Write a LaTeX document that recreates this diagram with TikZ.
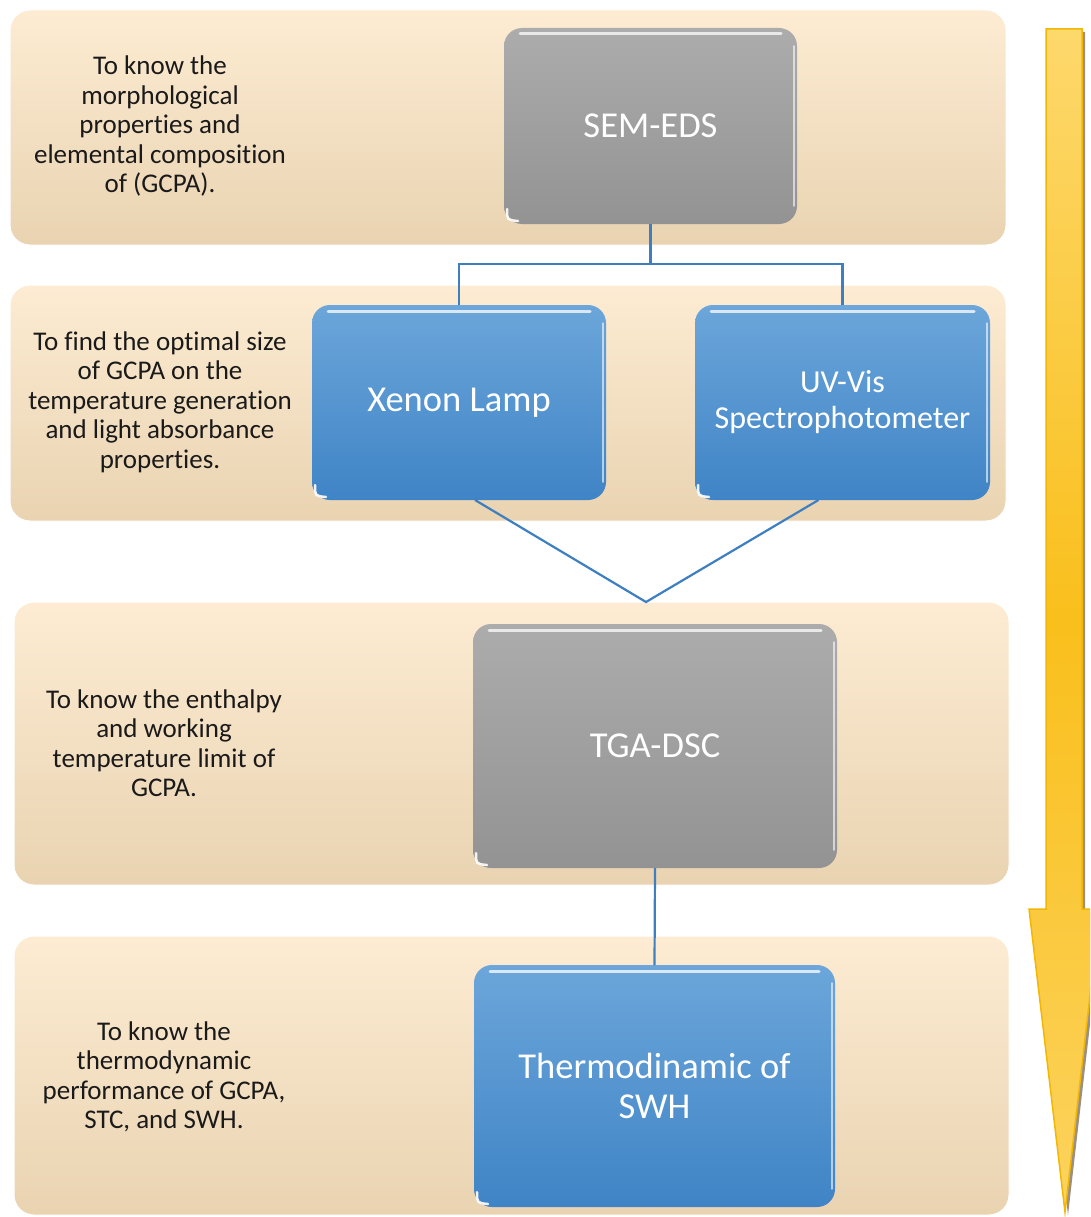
\documentclass[tikz,border=0pt]{standalone}
\usepackage{fontspec}
\setmainfont{Carlito}[Ligatures=NoCommon]
\usetikzlibrary{calc}
\definecolor{bandtop}{HTML}{FDECD3}
\definecolor{bandbot}{HTML}{E9D3B1}
\definecolor{graytop}{HTML}{ACACAC}
\definecolor{graybot}{HTML}{939393}
\definecolor{bluetop}{HTML}{6CA6DA}
\definecolor{bluebot}{HTML}{3F84C6}
\definecolor{connblue}{HTML}{3E7FC1}
\definecolor{arrtop}{HTML}{FDD86C}
\definecolor{arrmid}{HTML}{F9BF1C}
\definecolor{arrbot}{HTML}{FCD35E}
\definecolor{arredge}{HTML}{F2B705}
\definecolor{txt}{HTML}{1A1A1A}
\tikzset{
  band/.style={rounded corners=20pt, top color=bandtop, bottom color=bandbot, draw=white, line width=1pt},
  boxbase/.style={rounded corners=18pt, inner sep=0pt, outer sep=0pt, text=white, align=center,
     font=\fontsize{36.5}{40}\selectfont},
  graybox/.style={boxbase, top color=graytop, bottom color=graybot},
  bluebox/.style={boxbase, top color=bluetop, bottom color=bluebot},
  lefttext/.style={align=center, text=txt, font=\fontsize{27}{29.5}\selectfont, inner sep=0pt},
  conn/.style={draw=connblue, line width=2.2pt},
}
\begin{document}
\begin{tikzpicture}[x=1pt,y=-1pt]
\useasboundingbox (0,0) rectangle (1090,1217);
\fill[white] (0,0) rectangle (1090,1217);

% bands
\path[band] (10,10) rectangle (1006,245);
\path[band] (10,285) rectangle (1006,521);
\path[band] (14,602) rectangle (1009,885);
\path[band] (14,936) rectangle (1009,1215);

% left texts
\node[lefttext] (t1) at (160,126) {To know the\\morphological\\properties and\\elemental composition\\of (GCPA).};
\node[lefttext] (t2) at (160,402) {To find the optimal size\\of GCPA on the\\temperature generation\\and light absorbance\\properties.};
\node[lefttext] (t3) at (164,743) {To know the enthalpy\\and working\\temperature limit of\\GCPA.};
\node[lefttext] (t4) at (164,1077) {To know the\\thermodynamic\\performance of GCPA,\\STC, and SWH.};

% boxes
\node[graybox, minimum width=293pt, minimum height=196pt] (sem) at (650.5,126) {SEM-EDS};
\node[bluebox, minimum width=294pt, minimum height=195pt] (xenon) at (459,402.5) {Xenon Lamp};
\node[bluebox, minimum width=295pt, minimum height=195pt, font=\fontsize{32}{36}\selectfont] (uv) at (842.5,402.5) {UV-Vis\\Spectrophotometer};
\node[graybox, minimum width=364pt, minimum height=244pt] (tga) at (655,746) {TGA-DSC};
\node[bluebox, minimum width=361pt, minimum height=242pt] (thermo) at (654.5,1086) {Thermodinamic of\\SWH};

% glossy highlights
\foreach \b in {sem,xenon,uv,tga,thermo}{
  \draw[white, opacity=0.75, line width=3pt, line cap=round]
    ($(\b.north west)+(16,6)$) -- ($(\b.north east)+(-16,6)$);
  \draw[white, opacity=0.6, line width=1.5pt, line cap=round]
    ($(\b.north east)+(-3,18)$) -- ($(\b.south east)+(-3,-18)$);
  \draw[white, opacity=0.9, line width=2.5pt, line cap=round]
    ($(\b.south west)+(3,-15)$) .. controls ($(\b.south west)+(3,-4)$) .. ($(\b.south west)+(14,-3)$);
}

% connectors
\coordinate (split) at ($(sem.south)+(0,40)$);
\draw[conn] (sem.south) -- (split) -| (xenon.north);
\draw[conn] (split) -| (uv.north);
\coordinate (vtip) at (646,602);
\draw[conn] ([xshift=16pt]xenon.south) -- (vtip) -- ([xshift=-24pt]uv.south);
\draw[conn] (tga.south) -- (thermo.north);

% big arrow
\begin{scope}
\clip (0,0) rectangle (1090,1217);
\fill[black!60!brown, opacity=0.55] (1049,32) -- (1085,32) -- (1085,912) -- (1103,912) -- (1068,1215) -- (1032,912) -- (1049,912) -- cycle;
\path[draw=arredge, line width=1.5pt, top color=arrtop, bottom color=arrbot, middle color=arrmid, line join=miter]
  (1046,29) -- (1082,29) -- (1082,909) -- (1100,909) -- (1065,1212) -- (1029,909) -- (1046,909) -- cycle;
\end{scope}
\end{tikzpicture}
\end{document}
